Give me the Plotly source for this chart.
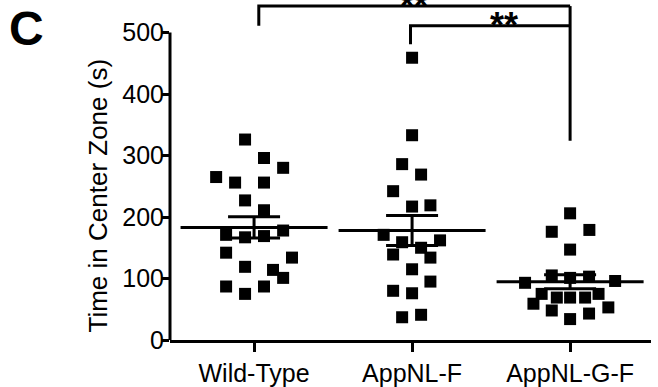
import numpy as np
import plotly.graph_objects as go

categories = ["Wild-Type", "AppNL-F", "AppNL-G-F"]

wt_values = [326, 296, 280, 265, 256, 256, 227, 211, 178, 171, 167, 169, 142, 134, 119, 114, 101, 87, 87, 75]
wt_jitter = [-0.057, 0.063, 0.184, -0.24, -0.12, 0.063, -0.057, 0.063, 0.184, -0.177,
             -0.057, 0.063, -0.177, 0.24, -0.057, 0.12, 0.184, -0.177, 0.063, -0.057]

nlf_values = [459, 333, 286, 269, 242, 217, 219, 171, 159, 150, 162, 139, 134, 115, 95, 80, 76, 37, 41]
nlf_jitter = [0, 0, -0.063, 0.057, -0.12, 0, 0.116, -0.18, -0.063, 0.057,
              0.177, -0.12, 0.116, 0, 0.116, -0.12, 0, -0.063, 0.057]

nlgf_values = [206, 176, 179, 147, 93, 105, 101, 103, 96, 59, 75, 69, 69, 69, 75, 48, 34, 43, 53]
nlgf_jitter = [0, -0.116, 0.122, 0, -0.285, -0.116, 0, 0.12, 0.285, -0.232,
               -0.18, -0.084, 0, 0.095, 0.18, -0.116, 0, 0.12, 0.242]

y_ticks = [0, 100, 200, 300, 400, 500]
y_title = "Time in Center Zone (s)"
panel_label = "C"

# significance brackets: (left group, right group, bar height, left drop end, label)
brackets = [(0, 2, 543, 511, "**"), (1, 2, 511, 481, "**")]
bracket_right_end = 324

groups = [wt_values, nlf_values, nlgf_values]
jitters = [wt_jitter, nlf_jitter, nlgf_jitter]

FONT = "Liberation Sans, Arial, Helvetica, sans-serif"

fig = go.Figure()

for i, (vals, jit) in enumerate(zip(groups, jitters)):
    xs = [i + j for j in jit]
    fig.add_trace(go.Scatter(
        x=xs, y=vals, mode="markers",
        marker=dict(symbol="square", size=12, color="black", line=dict(width=0)),
        showlegend=False, hoverinfo="skip", cliponaxis=False,
    ))

for i, vals in enumerate(groups):
    arr = np.array(vals, dtype=float)
    mean = arr.mean()
    sem = arr.std(ddof=1) / np.sqrt(len(arr))
    fig.add_trace(go.Scatter(
        x=[i], y=[mean], mode="markers",
        marker=dict(symbol="line-ew", size=105, color="black",
                    line=dict(width=3, color="black")),
        error_y=dict(type="data", array=[sem], visible=True,
                     color="black", thickness=3, width=26),
        showlegend=False, hoverinfo="skip", cliponaxis=False,
    ))

shapes = []
# y axis line (only up to 500)
shapes.append(dict(type="line", xref="paper", yref="y", x0=0, x1=0, y0=0, y1=500,
                   line=dict(color="black", width=3)))
for (a, b, h, drop, lab) in brackets:
    left = a + (0.03 if a == 0 else -0.01)
    shapes.append(dict(type="path", xref="x", yref="y",
                       path=f"M {left},{drop} L {left},{h} L {b},{h}",
                       line=dict(color="black", width=3)))
shapes.append(dict(type="line", xref="x", yref="y", x0=2, x1=2,
                   y0=brackets[0][2], y1=bracket_right_end,
                   line=dict(color="black", width=3)))

annotations = [
    dict(text="<b>**</b>", x=1.013, y=brackets[0][2], xref="x", yref="y",
         showarrow=False, xanchor="center", yanchor="middle",
         font=dict(family=FONT, size=36, color="black")),
    dict(text="<b>**</b>", x=1.58, y=brackets[1][2], xref="x", yref="y",
         showarrow=False, xanchor="center", yanchor="middle",
         font=dict(family=FONT, size=36, color="black")),
    dict(text=f"<b>{panel_label}</b>", x=-0.339, y=1.0, xref="paper", yref="paper",
         showarrow=False, xanchor="left", yanchor="top",
         font=dict(family=FONT, size=48, color="black")),
    dict(text=y_title, x=-0.1497, y=235, xref="paper", yref="y",
         showarrow=False, xanchor="center", yanchor="middle", textangle=-90,
         font=dict(family=FONT, size=26, color="black")),
]

fig.update_layout(
    width=658, height=387,
    margin=dict(l=170, r=7, t=0, b=42),
    paper_bgcolor="white", plot_bgcolor="white",
    font=dict(family=FONT, color="black"),
    shapes=shapes, annotations=annotations,
    xaxis=dict(
        range=[-0.532, 2.512], tickvals=[0, 1, 2], ticktext=categories,
        showline=True, linecolor="black", linewidth=3,
        ticks="outside", ticklen=9, tickwidth=3, tickcolor="black",
        showgrid=False, zeroline=False,
        tickfont=dict(family=FONT, size=25, color="black"),
    ),
    yaxis=dict(
        range=[0, 552.9], tickvals=y_ticks,
        showline=False,
        ticks="outside", ticklen=7, tickwidth=3, tickcolor="black",
        ticklabelstandoff=-7,
        showgrid=False, zeroline=False,
        tickfont=dict(family=FONT, size=25, color="black"),
    ),
)

fig.write_html("out.html", config={"displayModeBar": False},
               post_script="document.body.style.margin='0';")
